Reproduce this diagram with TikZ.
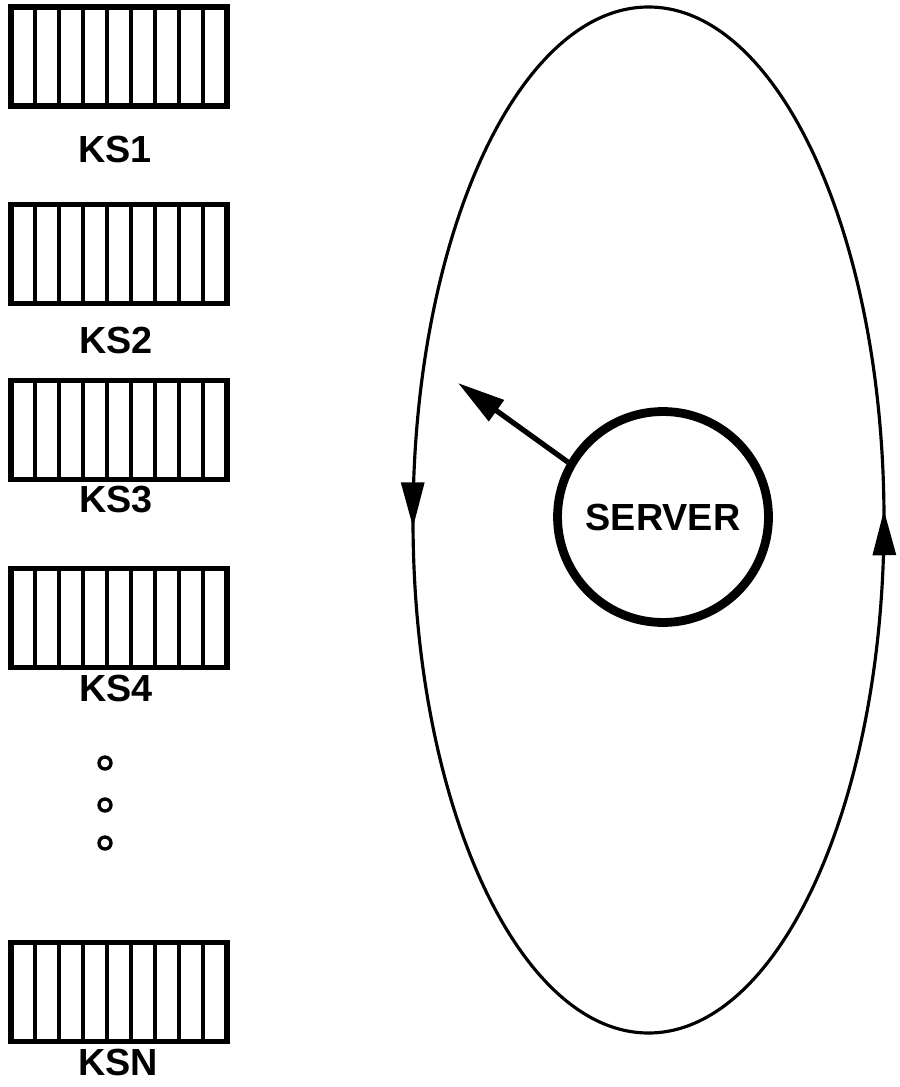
\documentclass[tikz,border=0pt]{standalone}
\usepackage{fontspec}
\setmainfont{Liberation Sans}
\usetikzlibrary{arrows.meta,decorations.markings}

\tikzset{
  keybox/.style={draw, line width=3pt, minimum width=4.32cm, minimum height=1.98cm, outer sep=0pt, inner sep=0pt},
  divider/.style={line width=2pt},
  lbl/.style={font=\fontsize{21.5}{26}\selectfont\bfseries, inner sep=0pt},
  dot/.style={draw, circle, line width=1.9pt, minimum size=0.24cm, inner sep=0pt},
  ring/.style={line width=1.8pt},
  bigtip/.tip={Triangle[length=0.9cm, width=0.46cm]}
}

\begin{document}
\begin{tikzpicture}[x=0.02cm, y=0.02cm]
        \useasboundingbox (0,0) rectangle (899,-1087); % page frame
        \foreach \n/\y in {1/56.5, 2/254, 3/430, 4/618, N/992} {
          \node[keybox] (ks\n) at (119,-\y) {}; % key slot box
          \foreach \k in {1,...,8}
            \draw[divider] ([xshift=\k*0.48cm]ks\n.south west) -- ([xshift=\k*0.48cm]ks\n.north west); % cells
        }
        \node[lbl] (lab1) at (115,-150) {KS1};
        \node[lbl] (lab2) at (116,-340) {KS2};
        \node[lbl] (lab3) at (116,-500) {KS3};
        \node[lbl] (lab4) at (116,-688) {KS4};
        \node[lbl] (labN) at (118,-1062) {KSN};
        \node[dot] (dot1) at (105,-763) {}; % more slots
        \node[dot] (dot2) at (105,-805) {};
        \node[dot] (dot3) at (105,-843) {};
        \draw[ring, postaction={decorate}, decoration={markings,
            mark=at position 0.004 with {\arrow{bigtip}},
            mark=at position 0.503 with {\arrow{bigtip}}}]
          (648.5,-520) ellipse [x radius=235.5, y radius=513]; % ring
        \node[draw, circle, line width=5pt, minimum size=4.22cm, inner sep=0pt,
          font=\fontsize{21.5}{26}\selectfont\bfseries] (server) at (663,-517) {SERVER};
        \coordinate (ptr) at (458,-383); % where the server points
        \draw[line width=3pt, -{Triangle[length=0.95cm, width=0.5cm]}] (server.150) -- (ptr);
    \end{tikzpicture}
\end{document}
